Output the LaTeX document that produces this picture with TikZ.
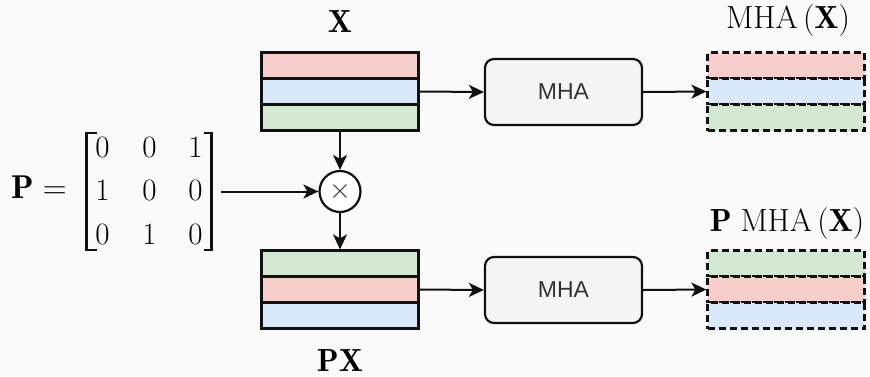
\RequirePackage{fix-cm}
\documentclass[tikz,border=0pt]{standalone}
\usepackage{amsmath}
\usepackage{fontspec}
\newfontfamily\mhafont{Liberation Sans}
\usetikzlibrary{arrows.meta}
\definecolor{bgc}{HTML}{FAFAFA}
\definecolor{rowred}{HTML}{F8CECC}
\definecolor{rowblue}{HTML}{DAE8FC}
\definecolor{rowgreen}{HTML}{D5E8D4}
\definecolor{boxfill}{HTML}{F5F5F5}
\definecolor{txtgray}{HTML}{333333}
\definecolor{edge}{HTML}{111111}
\tikzset{
  rowbox/.style={draw=edge, line width=2.2pt, minimum width=157pt, minimum height=26pt, inner sep=0pt},
  dashrow/.style={rowbox, dash pattern=on 7pt off 4pt},
  mhabox/.style={draw=edge, line width=2.2pt, fill=boxfill, rounded corners=9pt, minimum width=157pt, minimum height=66pt, inner sep=0pt, font=\mhafont\fontsize{23}{28}\selectfont, text=txtgray},
  arr/.style={draw=edge, line width=2pt, -{Stealth[length=15pt,width=14pt,inset=4pt]}},
  mlabel/.style={font=\fontsize{32}{38}\selectfont, inner sep=0pt, anchor=base},
  digit/.style={font=\fontsize{31}{31}\selectfont, inner sep=0pt, anchor=base},
  brk/.style={draw=edge, line width=2.6pt},
  brkserif/.style={draw=edge, line width=1.5pt},
}
\begin{document}
\begin{tikzpicture}[x=1pt,y=-1pt]
\fill[bgc] (0,0) rectangle (870,376);
\useasboundingbox (0,0) rectangle (870,376);

% left top stack X
\node[rowbox, fill=rowred]   (x1) at (340,65.5) {};
\node[rowbox, fill=rowblue]  (x2) at (340,91.5) {};
\node[rowbox, fill=rowgreen] (x3) at (340,117.5) {};
% left bottom stack PX
\node[rowbox, fill=rowgreen] (p1) at (340,263.5) {};
\node[rowbox, fill=rowred]   (p2) at (340,289.5) {};
\node[rowbox, fill=rowblue]  (p3) at (340,315.5) {};

% MHA boxes
\node[mhabox] (m1) at (563.5,92) {MHA};
\node[mhabox] (m2) at (563.5,290) {MHA};

% right top stack
\node[dashrow, fill=rowred]   (y1) at (786,65.5) {};
\node[dashrow, fill=rowblue]  (y2) at (786,91.5) {};
\node[dashrow, fill=rowgreen] (y3) at (786,117.5) {};
% right bottom stack
\node[dashrow, fill=rowgreen] (z1) at (786,263.5) {};
\node[dashrow, fill=rowred]   (z2) at (786,289.5) {};
\node[dashrow, fill=rowblue]  (z3) at (786,315.5) {};

% multiply
\node[circle, draw=edge, fill=white, line width=2.2pt, minimum size=41pt, inner sep=0pt,
      font=\fontsize{28}{28}\selectfont, text=txtgray] (mul) at (340,191.5) {$\times$};

% P =
\node[inner sep=0pt, anchor=base west, font=\fontsize{33}{33}\selectfont] (peq) at (11,198) {$\mathbf{P}=$};
% matrix entries
\node[digit] (a11) at (102.5,157) {0};
\node[digit] (a12) at (149.5,157) {0};
\node[digit] (a13) at (195.5,157) {1};
\node[digit] (a21) at (102.5,200.5) {1};
\node[digit] (a22) at (149.5,200.5) {0};
\node[digit] (a23) at (195.5,200.5) {0};
\node[digit] (a31) at (102.5,244) {0};
\node[digit] (a32) at (149.5,244) {1};
\node[digit] (a33) at (195.5,244) {0};
% brackets
\draw[brk] (86.5,133) -- (86.5,250);
\draw[brkserif] (85.2,133.2) -- (97,133.2);
\draw[brkserif] (85.2,249.8) -- (97,249.8);
\draw[brk] (211.5,133) -- (211.5,250);
\draw[brkserif] (204,133.2) -- (212.8,133.2);
\draw[brkserif] (204,249.8) -- (212.8,249.8);
\coordinate (matout) at (221,191.5);

% labels
\node[mlabel] (lx)  at (340,32)  {$\mathbf{X}$};
\node[mlabel] (lpx) at (340,371) {$\mathbf{PX}$};
\node[mlabel] (ly)  at (788,28)  {$\mathrm{MHA}\left(\mathbf{X}\right)$};
\node[mlabel] (lz)  at (787,231) {$\mathbf{P}\;\mathrm{MHA}\left(\mathbf{X}\right)$};

% connectors
\draw[arr] (x2.east) -- (m1.west);
\draw[arr] (m1.east) -- (y2.west);
\draw[arr] (x3.south) -- (mul.north);
\draw[arr] (mul.south) -- (p1.north);
\draw[arr] (matout) -- (mul.west);
\draw[arr] (p2.east) -- (m2.west);
\draw[arr] (m2.east) -- (z2.west);
\end{tikzpicture}
\end{document}
